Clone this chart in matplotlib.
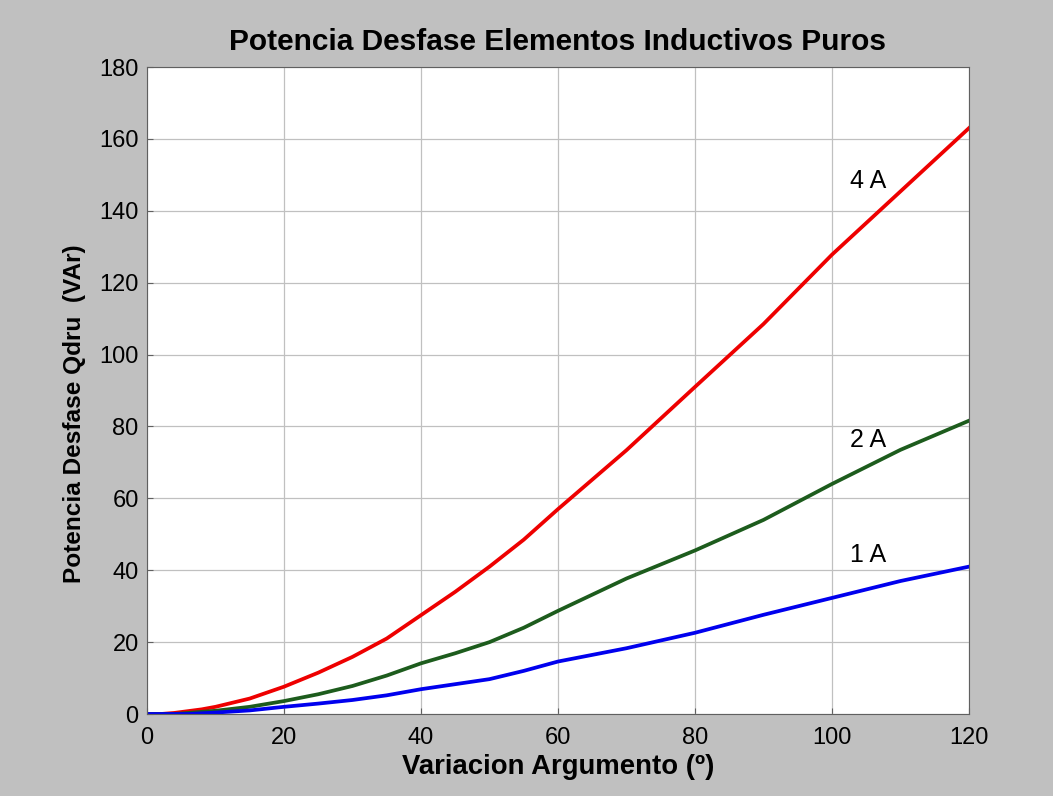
import matplotlib.pyplot as plt

plt.rcParams['font.family'] = ['Liberation Sans', 'DejaVu Sans']

# angle (degrees) and reactive power
angle = [0, 2, 4, 6, 8, 10, 15, 20, 25, 30, 35, 40, 45, 50, 55, 60, 70, 80, 90, 100, 110, 120]
q_4a = [0, 0, 0.3, 0.8, 1.3, 2.0, 4.3, 7.6, 11.5, 15.9, 21.0, 27.5, 34.0, 41.0, 48.5, 57.0, 73.4, 91.0, 108.5, 127.8, 145.4, 163.0]
q_2a = [0, 0, 0, 0.3, 0.6, 0.9, 2.0, 3.6, 5.5, 7.8, 10.7, 14.1, 16.9, 20.0, 24.0, 28.7, 37.7, 45.5, 54.0, 64.0, 73.5, 81.6]
q_1a = [0, 0, 0, 0, 0.2, 0.4, 1.0, 2.0, 2.9, 3.9, 5.2, 6.9, 8.3, 9.7, 12.0, 14.6, 18.3, 22.6, 27.6, 32.3, 37.0, 41.0]

labels = ['4 A', '2 A', '1 A']
label_pos = [(105.3, 148.2), (105.2, 76.2), (105.2, 44.1)]

fig = plt.figure(figsize=(10.53, 7.96), dpi=100, facecolor='#c0c0c0')
ax = fig.add_axes([0.1396, 0.103, 0.7806, 0.8128])
ax.set_facecolor('white')

ax.plot(angle, q_4a, color='#ee0000', lw=2.7)
ax.plot(angle, q_2a, color='#1d5c1d', lw=2.7)
ax.plot(angle, q_1a, color='#0000ee', lw=2.7)

for txt, (x, y) in zip(labels, label_pos):
    ax.text(x, y, txt, fontsize=18, ha='center', va='center')

ax.set_xlim(0, 120)
ax.set_ylim(0, 180)
ax.set_xticks(range(0, 121, 20))
ax.set_yticks(range(0, 181, 20))
ax.grid(True, color='#c0c0c0', lw=0.9)
ax.set_axisbelow(True)
ax.tick_params(labelsize=17, direction='in', length=4, color='#606060', pad=6)
ax.tick_params(axis='x', pad=9)
for s in ax.spines.values():
    s.set_color('#606060')
    s.set_linewidth(0.8)

ax.set_title('Potencia Desfase Elementos Inductivos Puros', fontsize=21.5, fontweight='bold', pad=12)
ax.set_xlabel('Variacion Argumento (º)', fontsize=19.8, fontweight='bold', labelpad=4)
ax.set_ylabel('Potencia Desfase Qdru  (VAr)', fontsize=17.6, fontweight='bold')
ax.yaxis.set_label_coords(-0.074, 0.464)

fig.savefig('out.png', dpi=100, facecolor=fig.get_facecolor())
